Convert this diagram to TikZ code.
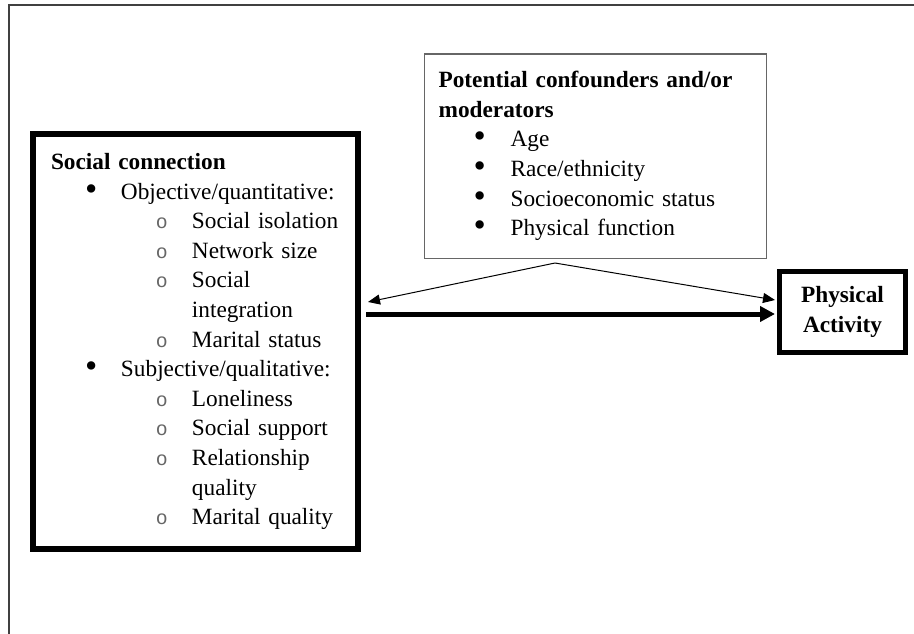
\documentclass[tikz,border=0pt]{standalone}
\usepackage{fontspec}
\setmainfont{Liberation Serif}
\newfontfamily\monobullet{Liberation Mono}
\usetikzlibrary{arrows.meta}

% list lines (indents measured from the heading)
\newcommand{\dotbullet}{\raisebox{-1pt}{\scalebox{1.5}{\textbullet}}}
\newcommand{\ringbullet}{\scalebox{0.85}{\color{black!60}\monobullet o}}
\newcommand{\lone}[1]{\hspace*{34pt}\makebox[36pt][l]{\dotbullet}#1}
\newcommand{\ltwo}[1]{\hspace*{105pt}\makebox[36pt][l]{\ringbullet}#1}
\newcommand{\lcont}[1]{\hspace*{141pt}#1}
\newcommand{\cone}[1]{\hspace*{35pt}\makebox[37pt][l]{\dotbullet}#1}

\tikzset{
  boxfont/.style={font=\fontsize{23.3}{29.6}\selectfont},
  thickbox/.style={draw, line width=6pt, boxfont, align=left, inner sep=0pt},
  thinbox/.style={draw=black!60, line width=1.2pt, boxfont, align=left, inner sep=0pt},
  thinarrow/.style={-{Triangle[length=12pt,width=10pt]}, line width=1pt},
  mainarrow/.style={-{Triangle[length=15pt,width=15pt]}, line width=5pt}
}

\begin{document}
\begin{tikzpicture}[x=1pt, y=-1pt]
        \useasboundingbox (0,0) rectangle (914,634);

        % Frame
        \draw[black!75, line width=1.3pt] (9,634) -- (9,5) -- (914,5);

        % Social connection
        \node[thickbox, anchor=north west, text width=289pt, minimum width=325pt,
              minimum height=415pt, inner xsep=17pt] (social) at (30,131) {%
          \textbf{Social connection}\\
          \lone{Objective/quantitative:}\\
          \ltwo{Social isolation}\\
          \ltwo{Network size}\\
          \ltwo{Social}\\
          \lcont{integration}\\
          \ltwo{Marital status}\\
          \lone{Subjective/qualitative:}\\
          \ltwo{Loneliness}\\
          \ltwo{Social support}\\
          \ltwo{Relationship}\\
          \lcont{quality}\\
          \ltwo{Marital quality}\par\vspace*{7pt}};

        % Potential confounders and/or moderators
        \node[thinbox, anchor=north west, text width=313pt, minimum width=342pt,
              minimum height=204pt, inner xsep=14.5pt] (conf) at (423.5,53.5) {%
          \textbf{Potential confounders and/or}\\
          \textbf{moderators}\\
          \cone{Age}\\
          \cone{Race/ethnicity}\\
          \cone{Socioeconomic status}\\
          \cone{Physical function}\par\vspace*{8pt}};

        % Physical Activity
        \node[thickbox, line width=5pt, align=center, minimum width=126pt,
              minimum height=81pt] (pa) at (842.5,312) {\textbf{Physical}\\\textbf{Activity}};

        % Arrows
        \coordinate (apex) at (555,263);
        \coordinate (ltip) at (368,302);
        \coordinate (rtip) at (775,300);
        \coordinate (mainstart) at (366,314);
        \coordinate (mainend) at (775,314);
        \draw[thinarrow] (apex) -- (ltip);
        \draw[thinarrow] (apex) -- (rtip);
        \draw[mainarrow] (mainstart) -- (mainend);
\end{tikzpicture}
\end{document}
